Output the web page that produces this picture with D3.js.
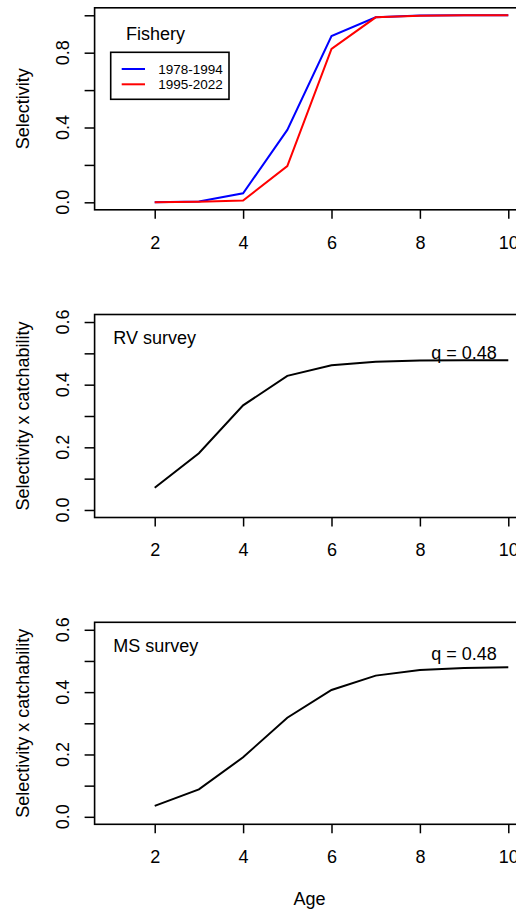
<!DOCTYPE html>
<html>
<head>
<meta charset="utf-8">
<script src="https://cdn.jsdelivr.net/npm/d3@7/dist/d3.min.js"></script>
<style>
html,body{margin:0;padding:0;background:#fff;overflow:hidden;}
svg{display:block;font-family:"Liberation Sans",Arial,sans-serif;}
</style>
</head>
<body>
<div id="chart"></div>
<script>
// ---- data ----
const ages = [2, 3, 4, 5, 6, 7, 8, 9, 10];
const fishery1978 = [0.0, 0.005, 0.048, 0.387, 0.889, 0.989, 0.999, 1.0, 1.0];
const fishery1995 = [0.0, 0.003, 0.010, 0.194, 0.820, 0.989, 0.998, 1.0, 1.0];
const rvSurvey = [0.071, 0.181, 0.334, 0.428, 0.462, 0.473, 0.477, 0.478, 0.478];
const msSurvey = [0.035, 0.088, 0.191, 0.318, 0.407, 0.453, 0.471, 0.477, 0.480];
const legendLabels = ["1978-1994", "1995-2022"];
const legendColors = ["#0000ff", "#ff0000"];
const xTicks = [2, 4, 6, 8, 10];
const topYTicks = [0, 0.2, 0.4, 0.6, 0.8, 1.0];
const topYLabels = [0, 0.4, 0.8];
const surveyYTicks = [0, 0.1, 0.2, 0.3, 0.4, 0.5, 0.6];
const surveyYLabels = [0, 0.2, 0.4, 0.6];
const qText = "q = 0.48";
const qPos = [{x: 9, y: 0.501}, {x: 9, y: 0.524}];

// ---- layout ----
const W = 516, H = 909;
const svg = d3.select("#chart").append("svg").attr("width", W).attr("height", H);
const left = 94.6, right = 524.2;
const FS = 18;

const x = d3.scaleLinear().domain([0.64, 10.36]).range([left, right]);

const panels = [
  {top: 7.8, bottom: 209.8, ymax: 1, ticks: topYTicks, labels: topYLabels, ytitle: "Selectivity"},
  {top: 314.5, bottom: 517.5, ymax: 0.6, ticks: surveyYTicks, labels: surveyYLabels, ytitle: "Selectivity x catchability"},
  {top: 622.3, bottom: 824.3, ymax: 0.6, ticks: surveyYTicks, labels: surveyYLabels, ytitle: "Selectivity x catchability"}
];

panels.forEach((p, i) => {
  const ext = p.ymax * 0.04;
  p.y = d3.scaleLinear().domain([-ext, p.ymax + ext]).range([p.bottom, p.top]);
  const g = svg.append("g");

  // x axis
  const xa = g.append("g").attr("transform", `translate(0,${p.bottom})`)
    .call(d3.axisBottom(x).tickValues(xTicks).tickSize(9).tickPadding(17).tickFormat(d3.format("d")));
  xa.select(".domain").remove();
  xa.selectAll("line").attr("stroke", "#000").attr("stroke-width", 1.5);
  xa.selectAll("text").attr("font-size", FS).attr("font-family", "Liberation Sans, Arial, sans-serif").attr("fill", "#000");

  // y axis ticks
  const ya = g.append("g").attr("transform", `translate(${left},0)`)
    .call(d3.axisLeft(p.y).tickValues(p.ticks).tickSize(10).tickFormat(""));
  ya.select(".domain").remove();
  ya.selectAll("line").attr("stroke", "#000").attr("stroke-width", 1.5);

  // y tick labels (rotated)
  g.selectAll(".ylab").data(p.labels).enter().append("text")
    .attr("transform", d => `translate(62.5,${p.y(d)}) rotate(-90)`)
    .attr("text-anchor", "middle").attr("dy", "0.35em")
    .attr("font-size", FS).text(d => d3.format(".1f")(d));

  // y title
  g.append("text")
    .attr("transform", `translate(23,${(p.top + p.bottom) / 2}) rotate(-90)`)
    .attr("text-anchor", "middle").attr("dy", "0.35em")
    .attr("font-size", FS).text(p.ytitle);

  // box
  g.append("rect").attr("x", left).attr("y", p.top)
    .attr("width", right - left).attr("height", p.bottom - p.top)
    .attr("fill", "none").attr("stroke", "#000").attr("stroke-width", 1.6);
});

const line = (ys, p) => d3.line().x((d, i) => x(ages[i])).y(d => p.y(d))(ys);

// top panel
const p0 = panels[0];
svg.append("path").attr("d", line(fishery1978, p0)).attr("fill", "none")
  .attr("stroke", legendColors[0]).attr("stroke-width", 2);
svg.append("path").attr("d", line(fishery1995, p0)).attr("fill", "none")
  .attr("stroke", legendColors[1]).attr("stroke-width", 2);

svg.append("text").attr("x", 126).attr("y", 33.5).attr("dy", "0.35em")
  .attr("font-size", FS).text("Fishery");

const lg = svg.append("g");
lg.append("rect").attr("x", 110.7).attr("y", 52.3).attr("width", 118.3).attr("height", 47)
  .attr("fill", "none").attr("stroke", "#000").attr("stroke-width", 1.6);
legendLabels.forEach((lab, i) => {
  const yy = 69 + i * 15.3;
  lg.append("line").attr("x1", 121.7).attr("x2", 145).attr("y1", yy).attr("y2", yy)
    .attr("stroke", legendColors[i]).attr("stroke-width", 2);
  lg.append("text").attr("x", 158.3).attr("y", yy).attr("dy", "0.35em")
    .attr("font-size", 13.5).text(lab);
});

// survey panels
[[rvSurvey, "RV survey"], [msSurvey, "MS survey"]].forEach(([vals, name], k) => {
  const p = panels[k + 1];
  svg.append("path").attr("d", line(vals, p)).attr("fill", "none")
    .attr("stroke", "#000").attr("stroke-width", 2);
  svg.append("text").attr("x", 113.3).attr("y", p.top + 23).attr("dy", "0.35em")
    .attr("font-size", FS).text(name);
  svg.append("text").attr("x", x(qPos[k].x)).attr("y", p.y(qPos[k].y)).attr("dy", "0.35em")
    .attr("text-anchor", "middle").attr("font-size", FS).text(qText);
});

// x title
svg.append("text").attr("x", (left + right) / 2).attr("y", 899).attr("dy", "0.35em")
  .attr("text-anchor", "middle").attr("font-size", FS).text("Age");
</script>
</body>
</html>
